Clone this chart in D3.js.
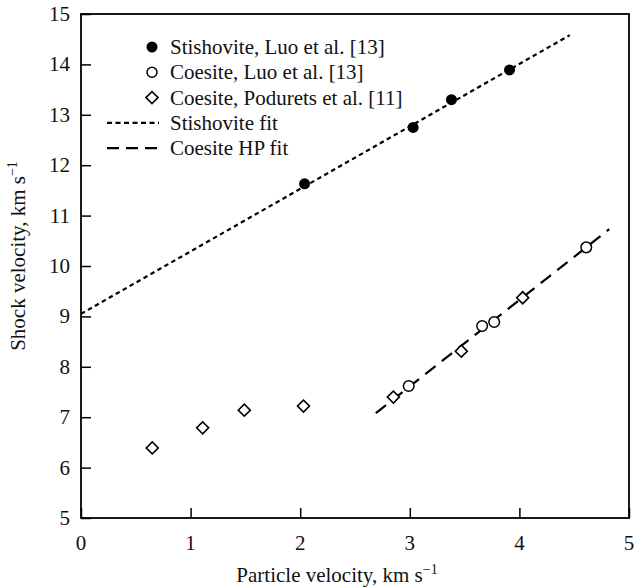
<!DOCTYPE html>
<html>
<head>
<meta charset="utf-8">
<script src="https://cdn.jsdelivr.net/npm/d3@7"></script>
<style>
  body { margin: 0; background: #fff; }
  text { font-family: "Liberation Serif", "Times New Roman", serif; fill: #111; }
</style>
</head>
<body>
<div id="container"></div>
<script>
// data
const stishovite = [[2.04, 11.63], [3.03, 12.75], [3.38, 13.3], [3.91, 13.89]];
const coesiteLuo = [[2.99, 7.62], [3.66, 8.81], [3.77, 8.89], [4.61, 10.37]];
const coesitePodurets = [[0.65, 6.39], [1.11, 6.79], [1.49, 7.14], [2.03, 7.22],
  [2.85, 7.4], [3.47, 8.31], [4.03, 9.37]];
const stishoviteFit = [[0, 9.05], [4.46, 14.58]];
const coesiteFit = [[2.69, 7.08], [4.82, 10.73]];
const xTicks = [0, 1, 2, 3, 4, 5];
const yTicks = [5, 6, 7, 8, 9, 10, 11, 12, 13, 14, 15];
const legendItems = [
  {label: 'Stishovite, Luo et al. [13]', kind: 'filled'},
  {label: 'Coesite, Luo et al. [13]', kind: 'open'},
  {label: 'Coesite, Podurets et al. [11]', kind: 'diamond'},
  {label: 'Stishovite fit', kind: 'dot'},
  {label: 'Coesite HP fit', kind: 'dash'}
];

const width = 634;
const height = 587;
const margin = {left: 81, right: 5, top: 14, bottom: 69};
const fs = 21;

const svg = d3.select('#container').append('svg')
  .attr('width', width)
  .attr('height', height);

const x = d3.scaleLinear().domain([0, 5]).range([margin.left, width - margin.right]);
const y = d3.scaleLinear().domain([5, 15]).range([height - margin.bottom, margin.top]);

const line = d3.line().x(d => x(d[0])).y(d => y(d[1]));

// fits
svg.append('path')
  .attr('d', line(stishoviteFit))
  .attr('fill', 'none')
  .attr('stroke', '#000')
  .attr('stroke-width', 2.2)
  .attr('stroke-dasharray', '4.5,3.5');

svg.append('path')
  .attr('d', line(coesiteFit))
  .attr('fill', 'none')
  .attr('stroke', '#000')
  .attr('stroke-width', 2.2)
  .attr('stroke-dasharray', '13,8');

// frame
svg.append('rect')
  .attr('x', x(0))
  .attr('y', y(15))
  .attr('width', x(5) - x(0))
  .attr('height', y(5) - y(15))
  .attr('fill', 'none')
  .attr('stroke', '#000')
  .attr('stroke-width', 1.8);

// axes with inward ticks
const xAxis = svg.append('g')
  .attr('transform', `translate(0,${y(5)})`)
  .call(d3.axisTop(x).tickValues(xTicks).tickSize(10).tickFormat(''));
xAxis.select('.domain').remove();
xAxis.selectAll('line').attr('stroke-width', 1.5);

const yAxis = svg.append('g')
  .attr('transform', `translate(${x(0)},0)`)
  .call(d3.axisRight(y).tickValues(yTicks).tickSize(10).tickFormat(''));
yAxis.select('.domain').remove();
yAxis.selectAll('line').attr('stroke-width', 1.5);

svg.append('g').selectAll('text')
  .data(xTicks)
  .enter()
  .append('text')
  .attr('x', d => x(d))
  .attr('y', y(5) + 32)
  .attr('text-anchor', 'middle')
  .attr('font-size', fs)
  .text(d => d);

svg.append('g').selectAll('text')
  .data(yTicks)
  .enter()
  .append('text')
  .attr('x', x(0) - 11)
  .attr('y', d => y(d) + 7)
  .attr('text-anchor', 'end')
  .attr('font-size', fs)
  .text(d => d);

// axis titles
const xTitle = svg.append('text')
  .attr('x', 337)
  .attr('y', 582)
  .attr('text-anchor', 'middle')
  .attr('font-size', fs)
  .text('Particle velocity, km s');
xTitle.append('tspan').attr('dy', -8).attr('font-size', 14).text('\u22121');

const yTitle = svg.append('text')
  .attr('transform', 'translate(25,256) rotate(-90)')
  .attr('text-anchor', 'middle')
  .attr('font-size', fs)
  .text('Shock velocity, km s');
yTitle.append('tspan').attr('dy', -8).attr('font-size', 14).text('\u22121');

// markers
const diamond = d3.symbol().type(d3.symbolSquare).size(72);

svg.append('g').selectAll('circle')
  .data(stishovite)
  .enter()
  .append('circle')
  .attr('cx', d => x(d[0]))
  .attr('cy', d => y(d[1]))
  .attr('r', 5.5)
  .attr('fill', '#000');

svg.append('g').selectAll('circle')
  .data(coesiteLuo)
  .enter()
  .append('circle')
  .attr('cx', d => x(d[0]))
  .attr('cy', d => y(d[1]))
  .attr('r', 5.3)
  .attr('fill', '#fff')
  .attr('stroke', '#000')
  .attr('stroke-width', 1.5);

svg.append('g').selectAll('path')
  .data(coesitePodurets)
  .enter()
  .append('path')
  .attr('d', diamond)
  .attr('transform', d => `translate(${x(d[0])},${y(d[1])}) rotate(45)`)
  .attr('fill', '#fff')
  .attr('stroke', '#000')
  .attr('stroke-width', 1.6);

// legend
const legend = svg.append('g');
legendItems.forEach((item, i) => {
  const ly = 47 + i * 25.3;
  const g = legend.append('g');
  if (item.kind === 'filled') {
    g.append('circle').attr('cx', 152).attr('cy', ly).attr('r', 5.5).attr('fill', '#000');
  } else if (item.kind === 'open') {
    g.append('circle').attr('cx', 152).attr('cy', ly).attr('r', 5)
      .attr('fill', '#fff').attr('stroke', '#000').attr('stroke-width', 1.5);
  } else if (item.kind === 'diamond') {
    g.append('path').attr('d', diamond)
      .attr('transform', `translate(152,${ly}) rotate(45)`)
      .attr('fill', '#fff').attr('stroke', '#000').attr('stroke-width', 1.6);
  } else {
    g.append('line')
      .attr('x1', 107).attr('x2', 159)
      .attr('y1', ly).attr('y2', ly)
      .attr('stroke', '#000')
      .attr('stroke-width', 2.2)
      .attr('stroke-dasharray', item.kind === 'dot' ? '5,3.5' : '12,7');
  }
  g.append('text')
    .attr('x', 170)
    .attr('y', ly + 7)
    .attr('font-size', fs)
    .text(item.label);
});
</script>
</body>
</html>
